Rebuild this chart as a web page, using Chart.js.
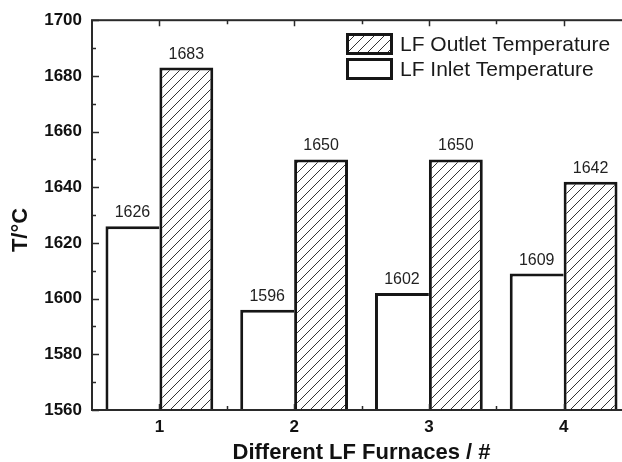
<!DOCTYPE html>
<html>
<head>
<meta charset="utf-8">
<script src="https://cdn.jsdelivr.net/npm/chart.js@4.4.1/dist/chart.umd.min.js"></script>
<style>
  html, body { margin: 0; padding: 0; background: #fff; overflow: hidden; }
  #wrap { width: 622px; height: 462px; overflow: hidden; }
</style>
</head>
<body>
<div id="wrap"><canvas id="tempChart" width="660" height="462"></canvas></div>
<script>
const furnaces = ['1', '2', '3', '4']
const inletTemps = [1626, 1596, 1602, 1609]
const outletTemps = [1683, 1650, 1650, 1642]
const yMin = 1560
const yMax = 1700
const yStep = 20

const INK = '#161616'
const FONT = "'Liberation Sans', Arial, sans-serif"

/**
 * Diagonal hatch used for the outlet bars and their legend patch.
 */
function makeHatch () {
  const tile = document.createElement('canvas')
  tile.width = 10
  tile.height = 10
  const g = tile.getContext('2d')
  g.fillStyle = '#fff'
  g.fillRect(0, 0, 10, 10)
  g.strokeStyle = '#333'
  g.lineWidth = 1
  g.beginPath()
  g.moveTo(-1, 11); g.lineTo(11, -1)
  g.moveTo(-1, 1); g.lineTo(1, -1)
  g.moveTo(9, 11); g.lineTo(11, 9)
  g.stroke()
  return g.createPattern(tile, 'repeat')
}

const hatch = makeHatch()

// frame, inward ticks, value labels, legend and axis titles
const decorations = {
  id: 'decorations',
  afterDatasetsDraw (chart) {
    const { ctx, chartArea: a, scales } = chart
    const x = scales.x
    const y = scales.y
    ctx.save()

    // value labels on top of every bar
    ctx.fillStyle = '#222'
    ctx.font = '16px ' + FONT
    ctx.textAlign = 'center'
    ctx.textBaseline = 'alphabetic'
    chart.data.datasets.forEach((ds, i) => {
      chart.getDatasetMeta(i).data.forEach((bar, j) => {
        ctx.fillText(String(ds.data[j]), bar.x, bar.y - 9)
      })
    })

    // frame
    ctx.strokeStyle = '#2a2a2a'
    ctx.lineWidth = 2
    ctx.strokeRect(a.left, a.top, a.right - a.left, a.bottom - a.top)

    // y ticks (major every 20, minor every 10), pointing inward
    ctx.lineWidth = 1.5
    ctx.beginPath()
    for (let v = yMin; v <= yMax; v += yStep / 2) {
      const py = Math.round(y.getPixelForValue(v)) + 0.5
      const len = (v - yMin) % yStep === 0 ? 7 : 4
      ctx.moveTo(a.left, py); ctx.lineTo(a.left + len, py)
      ctx.moveTo(a.right, py); ctx.lineTo(a.right - len, py)
    }
    // x ticks at each furnace and halfway between them
    for (let k = 0; k <= furnaces.length * 2 - 2; k++) {
      const px = Math.round(x.getPixelForValue(k / 2)) + 0.5
      const len = k % 2 === 0 ? 6 : 4
      ctx.moveTo(px, a.bottom); ctx.lineTo(px, a.bottom - len)
      ctx.moveTo(px, a.top); ctx.lineTo(px, a.top + len)
    }
    ctx.stroke()

    // legend
    const items = [
      { ds: chart.data.datasets[1], top: 33 },
      { ds: chart.data.datasets[0], top: 58 }
    ]
    ctx.font = '21px ' + FONT
    ctx.textAlign = 'left'
    ctx.textBaseline = 'middle'
    items.forEach(({ ds, top }) => {
      ctx.fillStyle = ds.backgroundColor
      ctx.fillRect(346, top, 47, 22)
      ctx.strokeStyle = INK
      ctx.lineWidth = 3
      ctx.strokeRect(347.5, top + 1.5, 44, 19)
      ctx.fillStyle = '#1a1a1a'
      ctx.fillText(ds.label, 400, top + 12)
    })

    // axis titles
    ctx.fillStyle = '#111'
    ctx.font = 'bold 22px ' + FONT
    ctx.textAlign = 'center'
    ctx.fillText('Different LF Furnaces / #', (a.left + a.right) / 2, 453)
    ctx.translate(21, 230)
    ctx.rotate(-Math.PI / 2)
    ctx.font = 'bold 22px ' + FONT
    ctx.fillText('T/°C', 0, 0)

    ctx.restore()
  }
}

document.addEventListener('DOMContentLoaded', () => {
  const ctx = document.getElementById('tempChart').getContext('2d')

  new Chart(ctx, {
    type: 'bar',
    data: {
      labels: furnaces,
      datasets: [{
        label: 'LF Inlet Temperature',
        data: inletTemps,
        backgroundColor: '#fff',
        borderColor: INK,
        borderWidth: { top: 3, left: 3, right: 0, bottom: 0 },
        borderSkipped: false
      }, {
        label: 'LF Outlet Temperature',
        data: outletTemps,
        backgroundColor: hatch,
        borderColor: INK,
        borderWidth: { top: 3, left: 3, right: 3, bottom: 0 },
        borderSkipped: false
      }]
    },
    options: {
      responsive: false,
      animation: false,
      categoryPercentage: 0.8,
      barPercentage: 1.0,
      layout: { padding: { left: 0, top: 20, right: 29, bottom: 0 } },
      plugins: {
        legend: { display: false },
        tooltip: { enabled: false }
      },
      scales: {
        x: {
          grid: { display: false, drawTicks: false },
          border: { display: false },
          ticks: { color: '#111', padding: 7, font: { family: FONT, size: 17, weight: 'bold' } },
          afterFit: (scale) => { scale.height = 52 }
        },
        y: {
          min: yMin,
          max: yMax,
          grid: { display: false, drawTicks: false },
          border: { display: false },
          ticks: {
            stepSize: yStep,
            color: '#111',
            padding: 10,
            font: { family: FONT, size: 17, weight: 'bold' },
            callback: (v) => String(v)
          },
          afterFit: (scale) => { scale.width = 92 }
        }
      }
    },
    plugins: [decorations]
  })
})
</script>
</body>
</html>
